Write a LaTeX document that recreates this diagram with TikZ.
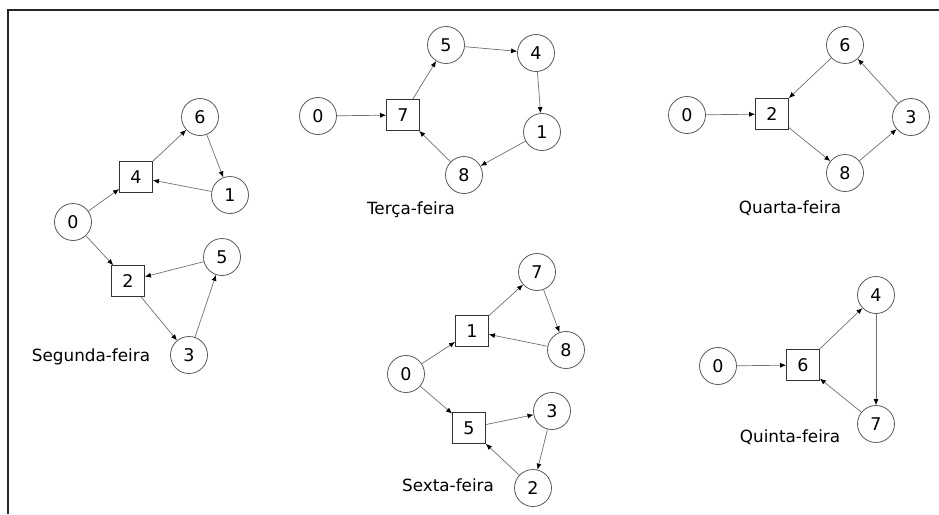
\documentclass[tikz,border=0pt]{standalone}
\usepackage{fontspec}
\setmainfont{DejaVu Sans}
\usetikzlibrary{arrows.meta}
\definecolor{edgegray}{HTML}{707070}
\definecolor{rimgray}{HTML}{5A5A5A}
\tikzset{
  circ/.style={circle, draw=rimgray, line width=0.8pt, minimum size=37pt, inner sep=0pt,
    font=\fontsize{17.5}{19}\selectfont},
  sq/.style={rectangle, draw=black!80, line width=0.8pt, minimum width=33pt, minimum height=31pt,
    inner sep=0pt, font=\fontsize{17.5}{19}\selectfont},
  daylabel/.style={font=\fontsize{16.8}{19}\selectfont, inner sep=0pt},
  arc/.style={draw=edgegray, line width=0.7pt, -{Latex[length=6pt,width=5pt,color=black]}},
  frameline/.style={draw=black!85, line width=1.2pt}
}
\begin{document}
\begin{tikzpicture}[x=1pt, y=-1pt]
\useasboundingbox (0,0) rectangle (939,514);

% frame: top and left rules
\coordinate (ftr) at (939,10);
\coordinate (ftl) at (8,10);
\coordinate (fbl) at (8,514);
\draw[frameline] (ftr) -- (ftl) -- (fbl);

% Segunda-feira
\node[circ] (s6) at (200,117) {6};
\node[sq]   (s4) at (136,177) {4};
\node[circ] (s1) at (230,195) {1};
\node[circ] (s0) at (73,222) {0};
\node[circ] (s5) at (222,257) {5};
\node[sq]   (s2) at (128,281) {2};
\node[circ] (s3) at (189,355) {3};
\node[daylabel] (sl) at (91,357) {Segunda-feira};
\draw[arc] (s0) -- (s4);
\draw[arc] (s4) -- (s6);
\draw[arc] (s6) -- (s1);
\draw[arc] (s1) -- (s4);
\draw[arc] (s0) -- (s2);
\draw[arc] (s5) -- (s2);
\draw[arc] (s2) -- (s3);
\draw[arc] (s3) -- (s5);

% Terça-feira
\node[circ] (t0) at (318,116) {0};
\node[sq]   (t7) at (403,115) {7};
\node[circ] (t5) at (446,45) {5};
\node[circ] (t4) at (536,53) {4};
\node[circ] (t1) at (542,132) {1};
\node[circ] (t8) at (464,175) {8};
\node[daylabel] (tl) at (411,210) {Terça-feira};
\draw[arc] (t0) -- (t7);
\draw[arc] (t7) -- (t5);
\draw[arc] (t5) -- (t4);
\draw[arc] (t4) -- (t1);
\draw[arc] (t1) -- (t8);
\draw[arc] (t8) -- (t7);

% Quarta-feira
\node[circ] (q6) at (845,45) {6};
\node[circ] (q0) at (687,115) {0};
\node[sq]   (q2) at (772,114) {2};
\node[circ] (q3) at (911,117) {3};
\node[circ] (q8) at (845,173) {8};
\node[daylabel] (ql) at (790,208) {Quarta-feira};
\draw[arc] (q0) -- (q2);
\draw[arc] (q6) -- (q2);
\draw[arc] (q2) -- (q8);
\draw[arc] (q8) -- (q3);
\draw[arc] (q3) -- (q6);

% Sexta-feira
\node[circ] (x7) at (537,272) {7};
\node[sq]   (x1) at (472,331) {1};
\node[circ] (x8) at (566,350) {8};
\node[circ] (x0) at (406,374) {0};
\node[sq]   (x5) at (469,428) {5};
\node[circ] (x3) at (552,411) {3};
\node[circ] (x2) at (533,488) {2};
\node[daylabel] (xl) at (448,485) {Sexta-feira};
\draw[arc] (x0) -- (x1);
\draw[arc] (x1) -- (x7);
\draw[arc] (x7) -- (x8);
\draw[arc] (x8) -- (x1);
\draw[arc] (x0) -- (x5);
\draw[arc] (x5) -- (x3);
\draw[arc] (x3) -- (x2);
\draw[arc] (x2) -- (x5);

% Quinta-feira
\node[circ] (u4) at (876,295) {4};
\node[circ] (u0) at (718,366) {0};
\node[sq]   (u6) at (803,365) {6};
\node[circ] (u7) at (876,424) {7};
\node[daylabel] (ul) at (790,437) {Quinta-feira};
\draw[arc] (u0) -- (u6);
\draw[arc] (u6) -- (u4);
\draw[arc] (u4) -- (u7);
\draw[arc] (u7) -- (u6);
\end{tikzpicture}
\end{document}
